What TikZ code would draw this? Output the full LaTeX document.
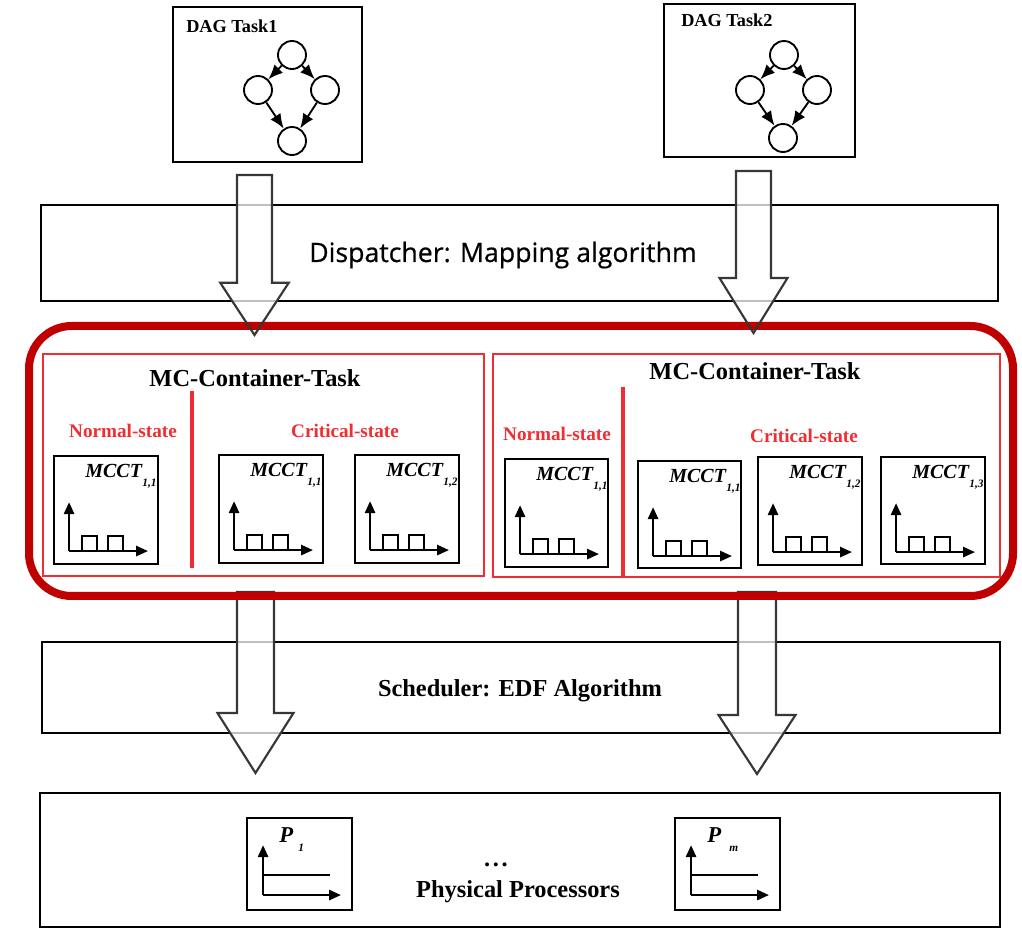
\documentclass[tikz,border=0pt]{standalone}
\usepackage{fontspec}
\setmainfont{Liberation Serif}
\newfontfamily\dispfont[FakeBold=0.6]{Open Sans}
\usetikzlibrary{arrows.meta}

\definecolor{framered}{RGB}{192,0,0}
\definecolor{statered}{RGB}{240,45,50}
\definecolor{arrowgray}{RGB}{55,55,55}

% box given by its corners in pixel units: name, x1, y1, x2, y2, style
\newcommand\pxbox[6]{%
  \node[#6, minimum width={(#4-#2)*0.75pt}, minimum height={(#5-#3)*0.75pt}]
    (#1) at ({(#2+#4)/2},{(#3+#5)/2}) {};}

% hollow block arrow: style, centre x, top, head base, tip, half shaft, half head
\newcommand\blockarrow[7]{%
  \path[#1] (#2-#6,#3) -- (#2+#6,#3) -- (#2+#6,#4) -- (#2+#7,#4)
    -- (#2,#5) -- (#2-#7,#4) -- (#2-#6,#4) -- cycle;}

% label and pulse train inside an MCCT box
\newcommand\mcctbox[6]{%
  \pxbox{#1}{#2}{#3}{#4}{#5}{mcct}
  \node[mcctfont, anchor=base west] (#1-t) at ([shift={(32,22)}]#1.north west) {MCCT};
  \node[subfont, anchor=base west] (#1-s) at ([shift={(89,31)}]#1.north west) {#6};
  \pic at (#1.north west) {pulses};}

% processor box with its label
\newcommand\procbox[7]{%
  \pxbox{#1}{#2}{#3}{#4}{#5}{mcct}
  \node[pfont, anchor=base west] (#1-t) at ([shift={(33,25)}]#1.north west) {P};
  \node[subfont, anchor=base west] (#1-s) at ([shift={(#7,34)}]#1.north west) {#6};
  \pic at (#1.north west) {busy};}

\begin{document}
\begin{tikzpicture}[x=0.75pt,y=-0.75pt,
  layer/.style={draw=black, line width=1.6pt, inner sep=0},
  dagbox/.style={draw=black, line width=1.4pt, inner sep=0},
  mcct/.style={draw=black, line width=1.4pt, inner sep=0},
  cont/.style={draw=statered, line width=1.8pt, inner sep=0},
  divider/.style={draw=statered, line width=2.4pt},
  vertex/.style={circle, draw=black, line width=1.4pt, minimum size=21pt, inner sep=0},
  dagedge/.style={line width=1.4pt, -{Latex[length=11pt,width=9pt]}},
  axisline/.style={line width=2pt, -{Triangle[length=9pt,width=7.5pt]}},
  sigline/.style={line width=1.8pt},
  arrfill/.style={fill=white, fill opacity=0.75},
  arrline/.style={draw=arrowgray, line width=1.6pt, line join=miter},
  blockarr/.style={arrfill, arrline},
  titlefont/.style={font=\fontsize{18.3}{20}\selectfont\bfseries, inner sep=0},
  statefont/.style={font=\fontsize{14.4}{16}\selectfont\bfseries, text=statered, inner sep=0},
  dagfont/.style={font=\fontsize{13.7}{15}\selectfont\bfseries, inner sep=0},
  mcctfont/.style={font=\fontsize{15}{15}\selectfont\bfseries\itshape, inner sep=0},
  pfont/.style={font=\fontsize{17}{17}\selectfont\bfseries\itshape, inner sep=0},
  subfont/.style={font=\fontsize{8.5}{8.5}\selectfont\bfseries\itshape, inner sep=0},
  pulses/.pic={
    \draw[axisline] (16,96) -- (16,47);
    \draw[axisline] (16,96) -- (95,96);
    \draw[sigline] (29,96) |- (44,81) -- (44,96);
    \draw[sigline] (55,96) |- (70,81) -- (70,96);
  },
  busy/.pic={
    \draw[axisline] (17,78) -- (17,28);
    \draw[axisline] (17,78) -- (95,78);
    \draw[sigline] (17,58) -- (84,58);
  }]
\useasboundingbox (0,0) rectangle (1022,930);

% ---------------- DAG tasks ----------------
\pxbox{dag1}{173}{7}{362}{162}{dagbox}
\node[dagfont, anchor=base west] (dag1-t) at (186,33) {DAG Task1};
\node[vertex] (a1) at (292,55) {};
\node[vertex] (b1) at (258,90) {};
\node[vertex] (c1) at (325,90) {};
\node[vertex] (d1) at (292,141) {};
\draw[dagedge] (a1) -- (b1);
\draw[dagedge] (a1) -- (c1);
\draw[dagedge] (b1) -- (d1);
\draw[dagedge] (c1) -- (d1);

\pxbox{dag2}{664}{4}{855}{157}{dagbox}
\node[dagfont, anchor=base west] (dag2-t) at (681,27) {DAG Task2};
\node[vertex] (a2) at (784,55) {};
\node[vertex] (b2) at (750,90) {};
\node[vertex] (c2) at (817,90) {};
\node[vertex] (d2) at (783,138) {};
\draw[dagedge] (a2) -- (b2);
\draw[dagedge] (a2) -- (c2);
\draw[dagedge] (b2) -- (d2);
\draw[dagedge] (c2) -- (d2);

% ---------------- dispatcher ----------------
\pxbox{disp}{41}{205}{998}{301}{layer}
\node[font=\dispfont\fontsize{20}{22}\selectfont, anchor=base, inner sep=0] (disp-t) at (503,262) {Dispatcher: Mapping algorithm};

% ---------------- MC containers ----------------
\pxbox{cl}{43}{354}{484}{576}{cont}
\node[titlefont, anchor=base] (cl-t) at (255,387) {MC-Container-Task};
\draw[divider] (192,391) -- (192,568);
\node[statefont, anchor=base] (cl-n) at (123,438) {Normal-state};
\node[statefont, anchor=base] (cl-c) at (345,438) {Critical-state};
\mcctbox{ln1}{54}{456}{158}{564}{1,1}
\mcctbox{lc1}{219}{455}{323}{563}{1,1}
\mcctbox{lc2}{355}{455}{459}{563}{1,2}

\pxbox{cr}{493}{354}{1000}{577}{cont}
\node[titlefont, anchor=base] (cr-t) at (755,380) {MC-Container-Task};
\draw[divider] (623,387) -- (623,577);
\node[statefont, anchor=base] (cr-n) at (557,441) {Normal-state};
\node[statefont, anchor=base] (cr-c) at (804,443) {Critical-state};
\mcctbox{rn1}{505}{459}{608}{567}{1,1}
\mcctbox{rc1}{638}{461}{741}{568}{1,1}
\mcctbox{rc2}{758}{457}{862}{565}{1,2}
\mcctbox{rc3}{881}{457}{985}{564}{1,3}

% ---------------- scheduler ----------------
\pxbox{sched}{42}{642}{1000}{733}{layer}
\node[titlefont, anchor=base] (sched-t) at (520,696) {Scheduler: EDF Algorithm};

% ---------------- processors ----------------
\pxbox{phys}{40}{793}{1000}{927}{layer}
\procbox{p1}{247}{818}{352}{910}{1}{52}
\procbox{pm}{675}{818}{780}{910}{m}{55}
\node[titlefont, anchor=base] (dots) at (496,866) {.\kern2pt.\kern2pt.};
\node[titlefont, anchor=base] (phys-t) at (518,897) {Physical Processors};

% ---------------- flow arrows ----------------
\blockarrow{arrfill}{254.5}{175}{282.7}{335}{17.5}{34.3}
\blockarrow{arrfill}{753.5}{171}{278}{333}{17.5}{34}
\blockarrow{blockarr}{255.5}{592}{713}{773}{18.5}{38}
\blockarrow{blockarr}{757}{592}{715}{774}{19}{38.5}

% frame round both containers
\draw[draw=framered, line width=6pt, rounded corners=32pt] (29,326) rectangle (1013,596);

% outlines of the upper arrows run over the frame
\blockarrow{arrline}{254.5}{175}{282.7}{335}{17.5}{34.3}
\blockarrow{arrline}{753.5}{171}{278}{333}{17.5}{34}
\end{tikzpicture}
\end{document}
